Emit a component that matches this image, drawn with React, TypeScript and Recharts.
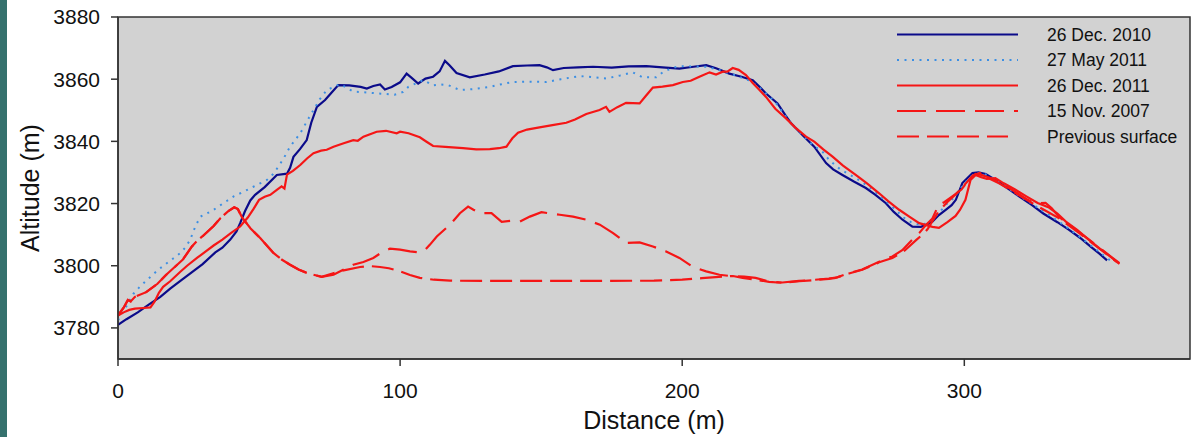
import React from 'react';
import { LineChart, Line, XAxis, YAxis, CartesianGrid, ReferenceArea } from 'recharts';

type Pt = [number, number];

// distance (m), altitude (m)
const dec2010: Pt[] = [
  [0, 3781], [3, 3782.8], [7, 3785], [10.9, 3787.5], [15, 3790], [18.5, 3792.6], [22.7, 3795.5], [26, 3797.8],
  [30, 3800.5], [34.5, 3804.3], [37, 3805.8], [39.8, 3808.4], [42, 3811], [43.3, 3813.7], [45, 3817.5], [46.9, 3821],
  [48.6, 3822.8], [52, 3825.3], [56.3, 3829.2], [59.9, 3829.6], [61, 3831.5], [62.2, 3835], [64.5, 3837.5], [66.9, 3840.4],
  [68.5, 3846], [70.5, 3851.1], [73.4, 3853.3], [75.5, 3855.5], [78.1, 3858.1], [82, 3858], [86, 3857.5], [88.2, 3857],
  [90.5, 3857.8], [92.9, 3858.3], [94.6, 3856.7], [97, 3857.5], [100, 3859], [102.3, 3861.8], [104, 3860.5], [106.4, 3858.6],
  [109, 3860.2], [111.7, 3860.8], [114, 3862.5], [115.9, 3865.9], [117.5, 3864.5], [120, 3862], [124.7, 3860.6], [130, 3861.5],
  [135, 3862.5], [140, 3864.2], [145, 3864.4], [149.4, 3864.5], [152, 3863.8], [154.2, 3862.9], [158, 3863.6], [163, 3863.8],
  [168.4, 3864], [175, 3863.7], [181, 3864.1], [187.3, 3864.2], [193, 3863.8], [199, 3863.4], [204, 3864], [208.5, 3864.5],
  [212, 3863.5], [216.7, 3861.8], [221, 3860.8], [225, 3859.7], [227.5, 3857.5], [229.7, 3855.4], [233.8, 3852.2], [236.5, 3848.5],
  [238.6, 3845.8], [242.7, 3842], [246.8, 3838.3], [251, 3833], [253.5, 3831], [256.8, 3829.2], [261, 3827], [265.1, 3825],
  [268.5, 3822.8], [272.2, 3820.1], [275, 3817.3], [278.1, 3814.8], [281.6, 3812.6], [284.6, 3812.5], [286.5, 3813.2], [288.7, 3814.2],
  [291, 3816.3], [293.4, 3818], [295.5, 3819.5], [297, 3821.2], [299.3, 3826.6], [302.9, 3829.8], [305, 3830], [307.6, 3829.5],
  [312, 3827], [316, 3824.5], [319.4, 3822.3], [324, 3819.5], [328, 3816.8], [333, 3814], [337, 3811.6], [341, 3809],
  [345, 3806], [348, 3803.8], [350.6, 3801.7],
];

const may2011: Pt[] = [
  [0, 3782.5], [3, 3787], [5.5, 3791], [8, 3793.5], [10.4, 3795.5], [14, 3798.5], [17.4, 3800.9], [20, 3802.6],
  [22.1, 3804.1], [24, 3806], [25.6, 3808.4], [27.4, 3812.6], [29.2, 3815.8], [31.5, 3816.8], [33.9, 3818], [37.5, 3820.2],
  [41, 3822.3], [44.5, 3823.8], [48, 3825.4], [52.8, 3827.6], [55, 3829.5], [56.9, 3831.9], [59, 3835], [61, 3838.3],
  [64.6, 3842.6], [67, 3846.5], [69.3, 3850.1], [71.5, 3853.5], [74, 3856.5], [78.7, 3858.4], [83.4, 3856], [87, 3855.8],
  [91, 3855.5], [95.3, 3855.2], [98, 3855], [101.1, 3855.9], [102.9, 3857.5], [105.5, 3858.6], [108.2, 3859.7], [111.7, 3858],
  [114.5, 3858.3], [117, 3858.1], [121.2, 3856.5], [126, 3856.8], [131.8, 3857.5], [136, 3858.4], [140, 3859.1], [146, 3859.2],
  [151.9, 3859.1], [157, 3860], [163.6, 3861], [168, 3860.7], [173, 3860.2], [178, 3861.2], [182.5, 3862.2], [186, 3860.6],
  [190.8, 3860.6], [193.1, 3862.2], [196, 3863.4], [199, 3864.2], [204, 3864.1], [208.5, 3864], [213, 3863], [218, 3861.5],
  [224, 3859.5], [228.5, 3856.5], [233, 3852.6], [238, 3846.5], [242, 3842.5], [246, 3839], [249.7, 3836.7], [252.1, 3834],
  [256, 3831], [261.5, 3828.2], [266, 3825.5], [270, 3822.5], [275, 3818.5], [278.5, 3815.5], [281.6, 3813.7], [285, 3813],
  [288, 3814.5], [291, 3817], [294, 3820.1], [296.5, 3822], [299.2, 3825.5], [302, 3828.5], [305.2, 3829.8], [308, 3829.3],
  [313, 3826.5], [318, 3823.3], [323, 3820.5], [328, 3817.5], [333, 3814.5], [338, 3811.3], [343, 3807.8], [348, 3804.3],
  [352, 3801.5],
];

const dec2011: Pt[] = [
  [0, 3784], [2, 3785], [4, 3785.8], [6, 3786.2], [9, 3786.4], [11.5, 3786.6], [13, 3788.5], [14.5, 3791.3],
  [16, 3793.2], [18.5, 3795], [22, 3798], [24.5, 3800], [28, 3802.5], [31, 3804.5], [33.9, 3806.5], [37, 3808.4],
  [40, 3810.5], [43.3, 3812.6], [46, 3815.5], [48, 3818.2], [50, 3821.2], [52, 3822.2], [54, 3822.8], [56.3, 3824.4],
  [58, 3825.5], [59, 3824.8], [59.9, 3829.3], [62, 3830.5], [64.6, 3832.4], [67, 3834.5], [69.3, 3836.2], [72, 3837],
  [74, 3837.3], [76.4, 3838.3], [80, 3839.4], [83.4, 3840.4], [85, 3840.2], [87, 3841.5], [91.7, 3843.1], [95, 3843.4],
  [98.8, 3842.6], [100, 3843.1], [103, 3842.6], [107, 3841.3], [109.5, 3839.8], [111.7, 3838.5], [116, 3838.2], [122.3, 3837.8],
  [127, 3837.4], [131.8, 3837.5], [135, 3837.8], [137.7, 3838.3], [139.8, 3841], [141.8, 3842.8], [145, 3843.8], [149.4, 3844.5],
  [154, 3845.2], [158.9, 3846], [162, 3847], [166, 3848.8], [170.7, 3850.1], [173, 3851.1], [174.2, 3849.5], [177, 3851],
  [180.1, 3852.4], [184.9, 3852.2], [187, 3854.5], [189.6, 3857.3], [193, 3857.6], [196.7, 3858.1], [200.2, 3859.1], [203, 3859.5],
  [206.1, 3860.8], [209.7, 3862.2], [212, 3861.5], [214.4, 3862.4], [216, 3862.4], [217.9, 3863.6], [220, 3863], [222.6, 3861.3],
  [225, 3858.8], [227.4, 3856.5], [229.7, 3854.3], [233, 3850.5], [236.8, 3847.4], [240, 3844.5], [243.9, 3841.5], [246.8, 3839.9],
  [250, 3837.4], [253.3, 3835.1], [257, 3832.2], [261.5, 3829.2], [265.5, 3826.5], [269.8, 3823.3], [273, 3820.8], [276.9, 3818],
  [280.5, 3815.8], [284, 3813.7], [288.7, 3812.5], [291, 3812.2], [294, 3814], [296.9, 3816], [298.5, 3818], [300.4, 3821.2],
  [302.2, 3827.6], [304, 3829.2], [306, 3828.5], [308, 3827.9], [311, 3828.2], [314, 3826.5], [318, 3824.5], [322, 3822.3],
  [326, 3820.2], [330, 3818.7], [333, 3816.8], [336, 3814.2], [340, 3811.5], [344, 3808.5], [348, 3805.5], [351, 3803.5],
  [354, 3801.3],
];

const nov2007: Pt[] = [
  [0, 3784], [2, 3786.5], [3.5, 3789], [4.5, 3788.5], [6, 3790], [10, 3791.5], [14, 3794.2], [17, 3797],
  [20, 3799.5], [23, 3802], [26.2, 3806.2], [28, 3808], [30, 3809.5], [33.9, 3812.8], [36.3, 3815.3], [39, 3817.5],
  [41.2, 3818.8], [42.5, 3818.2], [44, 3815.5], [47, 3812], [50.4, 3808.9], [55.1, 3804.1], [58, 3802], [61, 3800.3],
  [64, 3798.8], [66.9, 3797.7], [72.2, 3796.4], [76.4, 3797.1], [80, 3798.8], [83.4, 3800.3], [87, 3801.2], [90.5, 3802.5],
  [93, 3804], [96.4, 3805.5], [100, 3805.2], [103.5, 3804.6], [107, 3804.3], [109, 3805.2], [110.6, 3806.8], [113, 3809.4],
  [117.7, 3813.2], [121.2, 3816.9], [124.1, 3819], [126, 3818], [128.3, 3816.9], [132.4, 3816.9], [136, 3814.1], [139, 3814.4],
  [142.4, 3814.2], [146, 3815.8], [150.1, 3817.2], [152.5, 3816.9], [156.6, 3816.4], [161.3, 3815.8], [166, 3814.8], [170.8, 3813.2],
  [175.5, 3810.5], [180.2, 3807.3], [184.9, 3807.5], [189.6, 3806.2], [194.3, 3804.6], [199, 3802.5], [203.8, 3799.6], [208.5, 3798.2],
  [213.2, 3797.1], [217.9, 3796.6], [222, 3796.5], [226, 3796.1], [230.8, 3794.9], [235.5, 3794.6], [241.4, 3795.1], [246, 3795.4],
  [252, 3795.9], [255, 3796.3], [259.1, 3797.6], [263.8, 3798.8], [269.8, 3801.3], [274.5, 3803], [278, 3805], [281.6, 3808.4],
  [284, 3810.5], [286.3, 3813], [288.7, 3815.2], [290.8, 3819.4], [293, 3820.5], [296, 3822.5], [299, 3824.5], [301.5, 3827.5],
  [304, 3829.5], [306, 3829.2], [310, 3828], [314, 3826], [318, 3823.8], [322, 3821.5], [325, 3820], [328.8, 3820.2],
  [331, 3818.5], [333.5, 3815.8], [337, 3813.3], [341, 3810.6], [345, 3807.8], [349, 3805], [352.4, 3802.6], [355, 3800.8],
];

const previous: Pt[] = [
  [0, 3784], [2, 3786.5], [3.5, 3789], [4.5, 3788.5], [6, 3790], [10, 3791.5], [14, 3794.2], [17, 3797],
  [20, 3799.5], [23, 3802], [26.2, 3806.2], [28, 3808], [30, 3809.5], [33.9, 3812.8], [36.3, 3815.3], [39, 3817.5],
  [41.2, 3818.8], [42.5, 3818.2], [44, 3815.5], [47, 3812], [50.4, 3808.9], [55.1, 3804.1], [58, 3802], [61, 3800.3],
  [64, 3798.8], [66.9, 3797.7], [72.2, 3796.4], [76, 3797.5], [80, 3798.5], [85.8, 3799.6], [89, 3799.9], [92.9, 3799.6],
  [96, 3799.2], [100, 3798.2], [103.5, 3797], [107, 3796.1], [112, 3795.5], [117.7, 3795.2], [130, 3795.1], [150, 3795.1],
  [170, 3795.1], [190, 3795.2], [200, 3795.5], [207, 3796], [213, 3796.4], [218, 3796.7], [221.4, 3796.1], [226.1, 3795.5],
  [230.8, 3794.8], [235.5, 3794.5], [241.4, 3795], [247, 3795.4], [252, 3795.8], [254.4, 3796.1], [259.1, 3797.5], [263.8, 3798.7],
  [269.8, 3801.1], [274.5, 3802.5], [278.5, 3804.6], [283, 3808.3], [285.5, 3810.3], [287, 3811.8], [289.5, 3815.5], [291, 3817.6],
  [294, 3820.5], [297, 3823], [300, 3826], [303, 3829], [305.5, 3829.8], [308, 3828.4], [312.3, 3826.5], [316, 3824.6],
  [320, 3822.3], [325.3, 3819.5], [329, 3817.6], [333.5, 3815.3], [337, 3813], [341, 3810.3], [345, 3807.5], [349, 3804.8],
  [352.4, 3802.3], [355, 3800.6],
];

const xTicks = [0, 100, 200, 300];
const yTicks = [3780, 3800, 3820, 3840, 3860, 3880];

const toRows = (pts: Pt[]) => pts.map(([x, y]) => ({ x, y }));

const series = [
  { name: '26 Dec. 2010', pts: dec2010, color: '#0b0b8a', dash: undefined, width: 2.2 },
  { name: '27 May 2011', pts: may2011, color: '#3d8fe3', dash: '2 5.5', width: 2 },
  { name: '26 Dec. 2011', pts: dec2011, color: '#f51616', dash: undefined, width: 2.2 },
  { name: '15 Nov. 2007', pts: nov2007, color: '#f51616', dash: '29 10', width: 2.2 },
  { name: 'Previous surface', pts: previous, color: '#f51616', dash: '22 8', width: 2.2 },
];

const FONT = '"Liberation Sans", Arial, sans-serif';

export default function App() {
  return (
    <div style={{ position: 'absolute', left: 0, top: 0, width: 1194, height: 437, background: '#fff', fontFamily: FONT }}>
      <div style={{ position: 'absolute', left: 0, top: 0, width: 7, height: 437, background: '#35716d' }} />
      <LineChart width={1194} height={437} margin={{ top: 17, right: 4, bottom: 0, left: 0 }}>
        <CartesianGrid horizontal={false} vertical={false} fill="#d2d2d2" />
        <XAxis
          type="number"
          dataKey="x"
          domain={[0, 380]}
          ticks={xTicks}
          height={78}
          tickSize={7}
          tickMargin={17}
          stroke="#333"
          strokeWidth={1.5}
          tick={{ fontSize: 21, fill: '#111', fontFamily: FONT }}
          label={{ value: 'Distance (m)', position: 'insideBottom', offset: 8, style: { fontSize: 25, fill: '#111', fontFamily: FONT } }}
          allowDataOverflow
        />
        <YAxis
          type="number"
          domain={[3770, 3880]}
          ticks={yTicks}
          width={118}
          tickSize={7}
          tickMargin={11}
          stroke="#333"
          strokeWidth={1.5}
          tick={{ fontSize: 21, fill: '#111', fontFamily: FONT }}
          label={{ value: 'Altitude (m)', angle: -90, position: 'insideLeft', offset: 30, style: { textAnchor: 'middle', fontSize: 25, fill: '#111', fontFamily: FONT } }}
          allowDataOverflow
        />
        <ReferenceArea x1={0} x2={380} y1={3770} y2={3880} fill="none" fillOpacity={0} stroke="#333" strokeWidth={1.5} />
        {series.map((s) => (
          <Line
            key={s.name}
            data={toRows(s.pts)}
            dataKey="y"
            type="linear"
            stroke={s.color}
            strokeWidth={s.width}
            strokeDasharray={s.dash}
            dot={false}
            activeDot={false}
            isAnimationActive={false}
          />
        ))}
      </LineChart>
      <svg width={1194} height={437} style={{ position: 'absolute', left: 0, top: 0, pointerEvents: 'none' }}>
        {series.map((s, i) => {
          const y = 34.5 + i * 25.5;
          return (
            <g key={s.name}>
              <line x1={897} x2={i === 4 ? 1008 : 1018} y1={y} y2={y} stroke={s.color} strokeWidth={s.width} strokeDasharray={s.dash} />
              <text x={1047} y={y} dominantBaseline="central" fontSize={17.5} fill="#111" fontFamily={FONT}>
                {s.name}
              </text>
            </g>
          );
        })}
      </svg>
    </div>
  );
}
